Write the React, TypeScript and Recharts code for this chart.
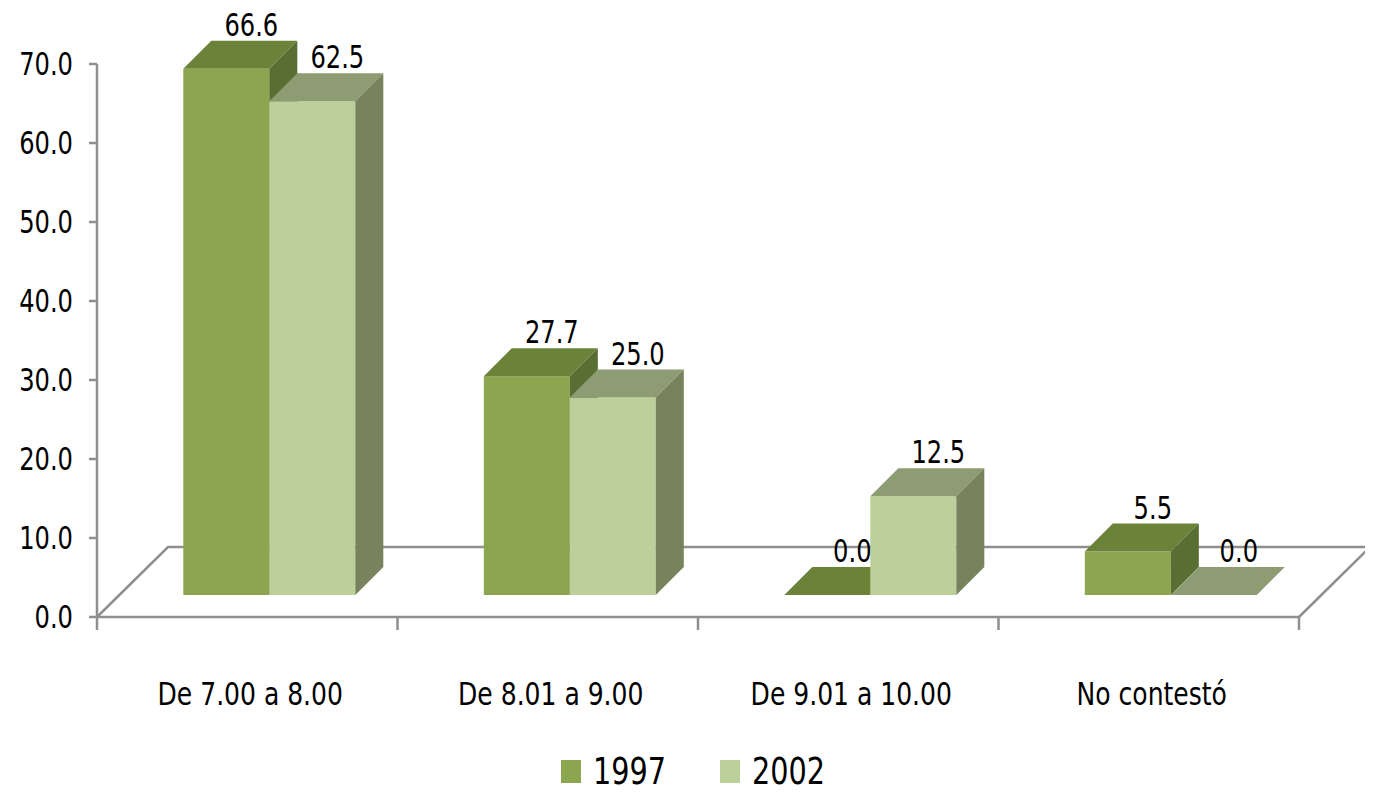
import * as R from "recharts";

const { BarChart, Bar, XAxis, YAxis, LabelList, Customized } = R as any;

const categories = ["De 7.00 a 8.00", "De 8.01 a 9.00", "De 9.01 a 10.00", "No contestó"];
const values1997 = [66.6, 27.7, 0.0, 5.5];
const values2002 = [62.5, 25.0, 12.5, 0.0];
const yTicks = [0, 10, 20, 30, 40, 50, 60, 70];

const data = categories.map((name, i) => ({
  name,
  y1997: values1997[i],
  y2002: values2002[i],
}));

const FONT = "'DejaVu Sans Condensed', 'DejaVu Sans', sans-serif";
const W = 1365;
const H = 785;
const MARGIN = { top: 56, right: 74, left: 9, bottom: 96 };
const Y_WIDTH = 80;
const PLOT_LEFT = MARGIN.left + Y_WIDTH;
const PLOT_W = W - PLOT_LEFT - MARGIN.right;
const BAND = PLOT_W / categories.length;

// bar position in depth and bar thickness
const SHIFT = 22;
const DEPTH = 28;
// floor depth
const FLOOR_X = 71;
const FLOOR_Y = 70;
const LINE = "#8f8f8f";

const colors = {
  y1997: { front: "#8ba64f", top: "#6a8339", side: "#586e32" },
  y2002: { front: "#bbd09a", top: "#8d9c72", side: "#78825d" },
};

// narrow text, close to the original's condensed face
function NarrowText({ x, y, size, sx, anchor, children }: any) {
  return (
    <text
      transform={`translate(${x},${y}) scale(${sx},1)`}
      textAnchor={anchor}
      fontSize={size}
      fontFamily={FONT}
      fill="#000"
    >
      {children}
    </text>
  );
}

function makeShape(c: { front: string; top: string; side: string }) {
  return (props: any) => {
    const { x, y, width, height } = props;
    const fx = x + SHIFT;
    const fy = y - SHIFT;
    const h = Math.max(0, height);
    return (
      <g>
        <rect x={fx} y={fy} width={width} height={h} fill={c.front} />
        <polygon
          points={`${fx},${fy} ${fx + DEPTH},${fy - DEPTH} ${fx + width + DEPTH},${fy - DEPTH} ${fx + width},${fy}`}
          fill={c.top}
        />
        <polygon
          points={`${fx + width},${fy} ${fx + width + DEPTH},${fy - DEPTH} ${fx + width + DEPTH},${fy - DEPTH + h} ${fx + width},${fy + h}`}
          fill={c.side}
        />
      </g>
    );
  };
}

function ValueLabel(props: any) {
  const { x, y, width, value } = props;
  return (
    <NarrowText x={x + width / 2 + SHIFT + 25} y={y - SHIFT - DEPTH - 5} size={32} sx={0.84} anchor="middle">
      {Number(value).toFixed(1)}
    </NarrowText>
  );
}

function Floor() {
  const area = (R as any).usePlotArea ? (R as any).usePlotArea() : null;
  const left = area ? area.x : PLOT_LEFT;
  const right = area ? area.x + area.width : PLOT_LEFT + PLOT_W;
  const bottom = area ? area.y + area.height : H - MARGIN.bottom - 80;
  return (
    <g stroke={LINE} strokeWidth={2.5} fill="none">
      <polyline
        points={`${left},${bottom} ${left + FLOOR_X},${bottom - FLOOR_Y} ${right + FLOOR_X},${bottom - FLOOR_Y} ${right},${bottom}`}
      />
    </g>
  );
}

function CategoryTick(props: any) {
  const { x, y, payload, index } = props;
  const isLast = index === categories.length - 1;
  return (
    <g>
      <line x1={x - BAND / 2} y1={y} x2={x - BAND / 2} y2={y + 13} stroke={LINE} strokeWidth={2.5} />
      {isLast && (
        <line x1={x + BAND / 2} y1={y} x2={x + BAND / 2} y2={y + 13} stroke={LINE} strokeWidth={2.5} />
      )}
      <NarrowText x={x + 3} y={y + 88} size={32} sx={0.87} anchor="middle">
        {payload.value}
      </NarrowText>
    </g>
  );
}

function ValueTick(props: any) {
  const { x, y, payload } = props;
  return (
    <NarrowText x={x} y={y + 11} size={32} sx={0.84} anchor="end">
      {Number(payload.value).toFixed(1)}
    </NarrowText>
  );
}

function LegendBox() {
  const item = (left: number, color: string, label: string) => (
    <div style={{ position: "absolute", left, top: 748, height: 30, display: "flex", alignItems: "center" }}>
      <div style={{ width: 20, height: 23, background: color, marginRight: 12 }} />
      <span
        style={{
          fontFamily: FONT,
          fontSize: 38,
          color: "#000",
          lineHeight: "30px",
          display: "inline-block",
          transform: "scaleX(0.84)",
          transformOrigin: "left center",
        }}
      >
        {label}
      </span>
    </div>
  );
  return (
    <>
      {item(553, colors.y1997.front, "1997")}
      {item(712, colors.y2002.front, "2002")}
    </>
  );
}

export default function App() {
  return (
    <div style={{ position: "relative", width: W, height: H }}>
      <BarChart width={W} height={H} data={data} margin={MARGIN} barCategoryGap="21.4%" barGap={0}>
        <Customized component={Floor} />
        <XAxis
          dataKey="name"
          height={80}
          interval={0}
          tickLine={false}
          tickSize={0}
          tickMargin={0}
          axisLine={{ stroke: LINE, strokeWidth: 2.5 }}
          tick={<CategoryTick />}
        />
        <YAxis
          width={Y_WIDTH}
          domain={[0, 70]}
          ticks={yTicks}
          interval={0}
          tick={<ValueTick />}
          tickSize={8}
          tickMargin={16}
          axisLine={{ stroke: LINE, strokeWidth: 2.5 }}
          tickLine={{ stroke: LINE, strokeWidth: 2.5 }}
        />
        <Bar dataKey="y1997" isAnimationActive={false} shape={makeShape(colors.y1997)}>
          <LabelList dataKey="y1997" content={<ValueLabel />} />
        </Bar>
        <Bar dataKey="y2002" isAnimationActive={false} shape={makeShape(colors.y2002)}>
          <LabelList dataKey="y2002" content={<ValueLabel />} />
        </Bar>
      </BarChart>
      <LegendBox />
    </div>
  );
}
